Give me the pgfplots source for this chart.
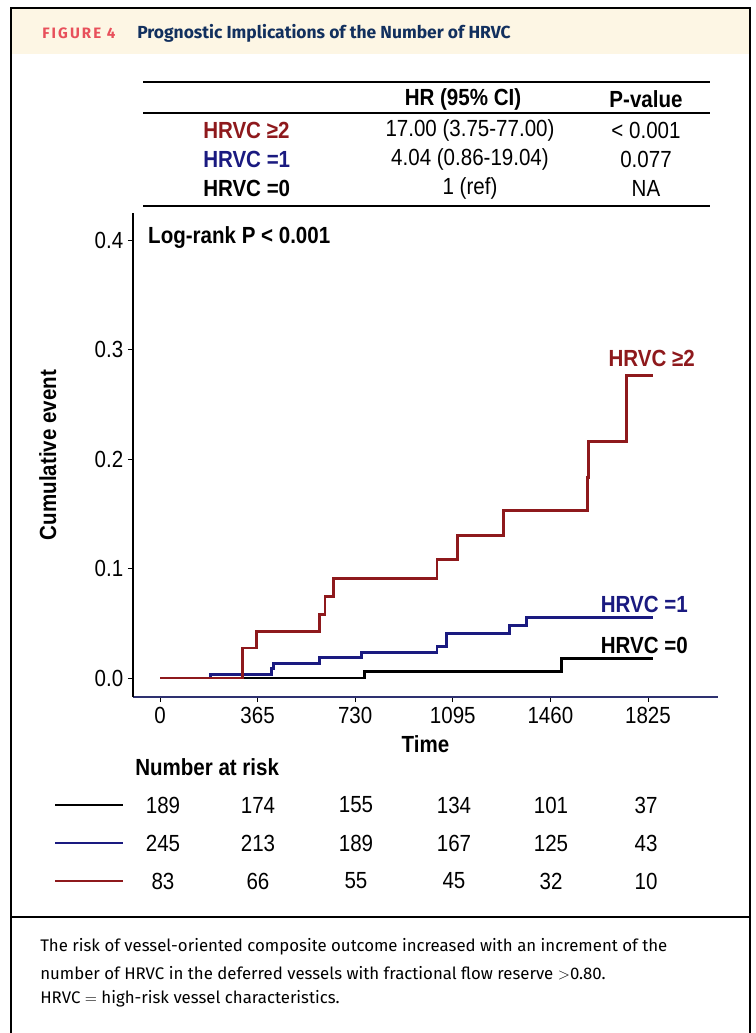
\documentclass[border=0pt]{standalone}
\usepackage{fontspec}
\usepackage{pgfplots}
\pgfplotsset{compat=1.18}
\setmainfont[FakeStretch=0.88]{Liberation Sans}
\newfontfamily\fira{Fira Sans}
\definecolor{kmred}{HTML}{8E191C}
\definecolor{kmblue}{HTML}{1A1A80}
\definecolor{navy}{HTML}{12305E}
\definecolor{figred}{HTML}{E8505B}
\definecolor{cream}{HTML}{FDF6E4}
\definecolor{axnavy}{HTML}{2E3170}
\newcommand{\pf}{\fontsize{17.5}{20}\selectfont}
\begin{document}
\begin{tikzpicture}[x=0.75pt,y=0.75pt]
\path[use as bounding box] (0,0) rectangle (756,-1033);
% header band and frame
\fill[cream] (11,-8) rectangle (750,-54);
\draw[line width=1.6pt] (11,-1033) -- (11,-8) -- (750,-8) -- (750,-1033);
\draw[line width=0.9pt] (11,-917) -- (750,-917);
\node[anchor=west,inner sep=0pt,text=figred] at (42,-33)
  {\fira\bfseries\addfontfeatures{LetterSpace=14}\fontsize{11.3}{13}\selectfont FIGURE 4};
\node[anchor=west,inner sep=0pt,text=navy] at (137,-33)
  {\fira\bfseries\fontsize{13.1}{15}\selectfont Prognostic Implications of the Number of HRVC};
% HR table
\draw[line width=0.9pt] (143,-82) -- (710,-82);
\draw[line width=0.9pt] (143,-113) -- (710,-113);
\draw[line width=0.9pt] (143,-206) -- (710,-206);
\node[font=\pf\bfseries] at (463,-99) {HR (95\% CI)};
\node[font=\pf\bfseries] at (646,-99) {P-value};
\node[font=\pf\bfseries,text=kmred,anchor=west,inner sep=0pt] at (203,-130) {HRVC ≥2};
\node[font=\pf\bfseries,text=kmblue,anchor=west,inner sep=0pt] at (203,-159) {HRVC =1};
\node[font=\pf\bfseries,anchor=west,inner sep=0pt] at (203,-188) {HRVC =0};
\node[font=\pf] at (470,-130) {17.00 (3.75-77.00)};
\node[font=\pf] at (470,-159) {4.04 (0.86-19.04)};
\node[font=\pf] at (470,-188) {1 (ref)};
\node[font=\pf] at (646,-130) {< 0.001};
\node[font=\pf] at (646,-159) {0.077};
\node[font=\pf] at (646,-188) {NA};
% KM axis
\begin{axis}[at={(99.75pt,-522.75pt)}, anchor=south west, scale only axis,
  width=438.75pt, height=363pt,
  xmin=-101, xmax=2087, ymin=-0.01735, ymax=0.4247,
  axis lines=left,
  x axis line style={-,axnavy,line width=1.4pt},
  y axis line style={-,black,line width=1.2pt},
  xtick={0,365,730,1095,1460,1825},
  xticklabels={0,365,730,1095,1460,1825},
  ytick={0,0.1,0.2,0.3,0.4},
  yticklabels={0.0,0.1,0.2,0.3,0.4},
  tick align=outside, major tick length=3.75pt,
  tick style={black,line width=0.6pt},
  ticklabel style={font=\pf},
  xlabel={\bfseries Time}, ylabel={\bfseries Cumulative event},
  label style={font=\pf},
  ylabel shift=22pt, xlabel shift=2.5pt,
  clip=false,
]
\addplot[const plot, black, line width=2.2pt] coordinates {
 (0,0) (764,0.006) (1503,0.0175) (1845,0.0175)};
\addplot[const plot, kmblue, line width=2.2pt] coordinates {
 (0,0) (188,0.0035) (417,0.0085) (424,0.013) (598,0.019) (753,0.0237)
 (1036,0.029) (1070,0.041) (1306,0.048) (1370,0.055) (1845,0.055)};
\addplot[const plot, kmred, line width=2.2pt] coordinates {
 (0,0) (308,0.0274) (361,0.0428) (597,0.0578) (617,0.0745) (648,0.091)
 (1036,0.108) (1113,0.130) (1283,0.153) (1600,0.183) (1603,0.216)
 (1744,0.276) (1845,0.276)};
\node[font=\pf\bfseries,anchor=west,inner sep=0pt] at (axis cs:-45,0.4027) {Log-rank P < 0.001};
\node[font=\pf\bfseries,text=kmred,anchor=east,inner sep=0pt] at (axis cs:2001,0.292) {HRVC ≥2};
\node[font=\pf\bfseries,text=kmblue,anchor=east,inner sep=0pt] at (axis cs:1975,0.0676) {HRVC =1};
\node[font=\pf\bfseries,anchor=east,inner sep=0pt] at (axis cs:1975,0.030) {HRVC =0};
\end{axis}
% number at risk
\node[font=\pf\bfseries,anchor=west,inner sep=0pt] at (135,-767) {Number at risk};
\draw[black,line width=2.2pt] (55,-805) -- (123,-805);
\draw[kmblue,line width=2.2pt] (55,-843) -- (123,-843);
\draw[kmred,line width=2.2pt] (55,-881) -- (123,-881);
\foreach \x/\a/\b/\c in {163/189/245/83, 258/174/213/66, 356/155/189/55,
  454/134/167/45, 551/101/125/32, 646/37/43/10}{
  \node[font=\pf] at (\x,-805) {\a};
  \node[font=\pf] at (\x,-843) {\b};
  \node[font=\pf] at (\x,-881) {\c};
}
% caption
\begin{scope}[every node/.style={anchor=west,inner sep=0pt,font=\fira\fontsize{12.6}{14}\selectfont}]
\node at (40,-947) {The risk of vessel-oriented composite outcome increased with an increment of the};
\node at (40,-973) {number of HRVC in the deferred vessels with fractional flow reserve $>$0.80.};
\node at (40,-999) {HRVC $=$ high-risk vessel characteristics.};
\end{scope}
\end{tikzpicture}
\end{document}
